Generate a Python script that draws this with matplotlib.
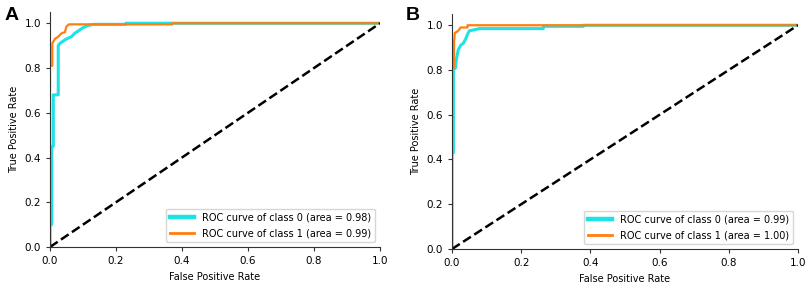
import matplotlib.pyplot as plt

# ROC points (panel A)
fpr_a0 = [0.0, 0.0, 0.005, 0.005, 0.01, 0.01, 0.025, 0.025, 0.03, 0.04, 0.05, 0.065, 0.075, 0.09, 0.10, 0.115, 0.13, 0.23, 0.23, 1.0]
tpr_a0 = [0.0, 0.10, 0.10, 0.45, 0.45, 0.68, 0.68, 0.90, 0.91, 0.92, 0.93, 0.94, 0.955, 0.97, 0.98, 0.99, 0.995, 0.995, 1.0, 1.0]
fpr_a1 = [0.0, 0.0, 0.007, 0.007, 0.015, 0.025, 0.035, 0.045, 0.05, 0.057, 0.37, 0.37, 1.0]
tpr_a1 = [0.0, 0.81, 0.81, 0.91, 0.93, 0.94, 0.955, 0.96, 0.985, 0.995, 0.995, 1.0, 1.0]

# panel B
fpr_b0 = [0.0, 0.0, 0.004, 0.004, 0.01, 0.013, 0.018, 0.025, 0.033, 0.04, 0.045, 0.05, 0.08, 0.264, 0.264, 0.38, 0.38, 1.0]
tpr_b0 = [0.0, 0.43, 0.43, 0.80, 0.81, 0.85, 0.89, 0.91, 0.92, 0.94, 0.96, 0.975, 0.985, 0.985, 0.995, 0.995, 1.0, 1.0]
fpr_b1 = [0.0, 0.0, 0.006, 0.006, 0.008, 0.018, 0.025, 0.045, 0.045, 1.0]
tpr_b1 = [0.0, 0.81, 0.81, 0.925, 0.965, 0.975, 0.99, 0.99, 1.0, 1.0]

auc_a = [0.98, 0.99]
auc_b = [0.99, 1.00]
panels = ['A', 'B']

fig = plt.figure(figsize=(8.09, 2.89), dpi=100)
ax_a = fig.add_axes([0.0618, 0.1453, 0.408, 0.813])
ax_b = fig.add_axes([0.5587, 0.1384, 0.4277, 0.813])

data = [(ax_a, fpr_a0, tpr_a0, fpr_a1, tpr_a1, auc_a),
        (ax_b, fpr_b0, tpr_b0, fpr_b1, tpr_b1, auc_b)]

for ax, f0, t0, f1, t1, auc in data:
    ax.plot(f0, t0, color='#1de4e4', lw=2.2, label=f'ROC curve of class 0 (area = {auc[0]:.2f})')
    ax.plot(f1, t1, color='#ff7f0e', lw=1.6, label=f'ROC curve of class 1 (area = {auc[1]:.2f})')
    ax.plot([0, 1], [0, 1], 'k--', lw=1.8)
    ax.set_xlim(0.0, 1.0)
    ax.set_ylim(0.0, 1.05)
    ax.set_xlabel('False Positive Rate', fontsize=7)
    ax.set_ylabel('True Positive Rate', fontsize=7)
    ax.tick_params(labelsize=7.5, length=3, width=0.8, color='#333333')
    for s in ['top', 'right']:
        ax.spines[s].set_visible(False)
    for s in ['left', 'bottom']:
        ax.spines[s].set_color('#333333')
    leg = ax.legend(loc='lower right', fontsize=7, handlelength=2.5, labelspacing=0.6)
    lines = leg.get_lines()
    lines[0].set_linewidth(3.2)
    lines[1].set_linewidth(2.0)

fig.text(0.006, 0.93, panels[0], fontsize=14, fontweight='bold', family='Liberation Sans')
fig.text(0.502, 0.93, panels[1], fontsize=14, fontweight='bold', family='Liberation Sans')

plt.savefig('out.png', dpi=100)
